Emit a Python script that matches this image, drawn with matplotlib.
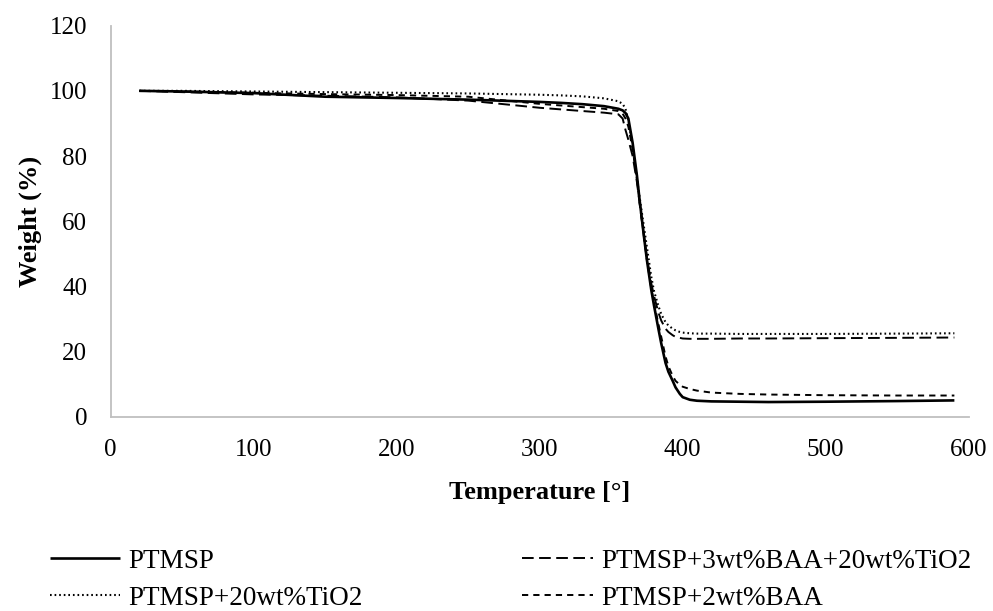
import matplotlib
matplotlib.use("Agg")
import matplotlib.pyplot as plt

# temperature grid (deg) shared by all four TGA curves
temp = [20, 50, 100, 150, 200, 250, 300, 315, 330, 345, 355, 358, 360, 362, 365,
        368, 370, 373, 375, 378, 380, 383, 385, 388, 390, 393, 395, 398, 400,
        405, 410, 420, 440, 460, 500, 550, 590]

w_ptmsp = [100, 99.8, 99.3, 98.2, 97.8, 97.3, 96.6, 96.3, 95.9, 95.3, 94.5, 94.0, 93.2, 91.5, 84,
           74, 66, 55, 48, 39, 34, 27, 22.5, 16.5, 13.8, 11.0, 9.0, 7.0, 6.0,
           5.2, 4.9, 4.7, 4.6, 4.5, 4.6, 4.8, 5.0]

w_tio2 = [100, 100, 99.8, 99.6, 99.4, 99.2, 98.8, 98.6, 98.3, 97.7, 96.8, 96.0, 94.5, 91, 83,
          73, 67, 58, 52, 43, 38.5, 34, 31.5, 29, 28, 27, 26.5, 26, 25.8,
          25.6, 25.5, 25.5, 25.4, 25.4, 25.4, 25.5, 25.6]

w_baa_tio2 = [100, 99.6, 98.9, 98.5, 98.0, 97.0, 94.8, 94.3, 93.8, 93.3, 92.8, 91.5, 88, 85, 80,
              72, 65, 55, 49, 41, 37, 32, 29.5, 27, 26, 25, 24.5, 24.2, 24.0,
              23.9, 23.9, 23.9, 24.0, 24.0, 24.1, 24.2, 24.3]

w_baa = [100, 99.8, 99.4, 99.0, 98.7, 98.2, 96.0, 95.5, 95.0, 94.5, 93.8, 93.0, 91.5, 89, 82,
         73, 65.5, 55, 48, 39.5, 35, 28.5, 24.5, 18.5, 15.5, 12.5, 11.0, 9.8, 9.2,
         8.5, 8.0, 7.4, 7.0, 6.8, 6.6, 6.5, 6.5]

labels = ["PTMSP", "PTMSP+20wt%TiO2", "PTMSP+3wt%BAA+20wt%TiO2", "PTMSP+2wt%BAA"]

plt.rcParams["font.family"] = ["Liberation Serif", "DejaVu Serif"]
plt.rcParams["font.size"] = 18

fig = plt.figure(figsize=(9.93, 6.11), dpi=100)
ax = fig.add_axes([0.1115, 0.318, 0.864, 0.640])

l1, = ax.plot(temp, w_ptmsp, color="black", lw=1.9, solid_capstyle="butt")
l2, = ax.plot(temp, w_tio2, color="black", lw=1.5, linestyle=(0, (0.8, 1.4)))
l3, = ax.plot(temp, w_baa_tio2, color="black", lw=1.4, linestyle=(0, (6, 2.8)))
l4, = ax.plot(temp, w_baa, color="black", lw=1.4, linestyle=(0, (3.2, 2.6)))

ax.set_xlim(0, 600)
ax.set_ylim(0, 120)
ax.set_xticks(range(0, 601, 100))
ax.set_yticks(range(0, 121, 20))
ax.tick_params(length=0)
ax.tick_params(axis="y", pad=17)
ax.tick_params(axis="x", pad=16)

for side in ["top", "right"]:
    ax.spines[side].set_visible(False)
for side in ["left", "bottom"]:
    ax.spines[side].set_color("#bfbfbf")
    ax.spines[side].set_linewidth(1.3)

ax.set_xlabel("Temperature [°]", fontweight="bold", fontsize=19)
ax.set_ylabel("Weight (%)", fontweight="bold", fontsize=19)
ax.xaxis.set_label_coords(0.5, -0.165)
ax.yaxis.set_label_coords(-0.08, 0.5)

leg_kw = dict(frameon=False, borderpad=0, borderaxespad=0, handlelength=2.6,
              handletextpad=0.3, labelspacing=0.45, fontsize=19.5)
fig.legend([l1, l2], [labels[0], labels[1]], loc="upper left",
           bbox_to_anchor=(0.05, 0.102), **leg_kw)
fig.legend([l3, l4], [labels[2], labels[3]], loc="upper right",
           bbox_to_anchor=(0.978, 0.102), **leg_kw)

fig.savefig("out.png", dpi=100)
